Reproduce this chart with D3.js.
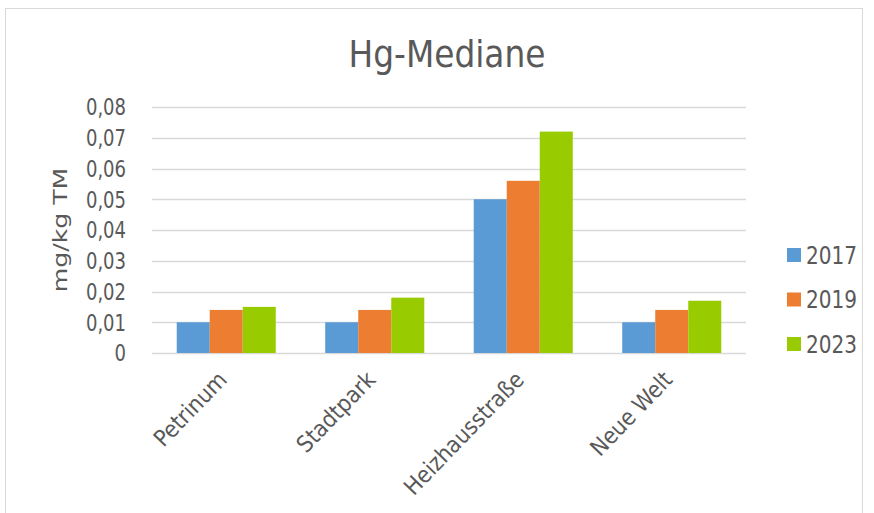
<!DOCTYPE html>
<html>
<head>
<meta charset="utf-8">
<script src="https://cdn.jsdelivr.net/npm/d3@7"></script>
<style>
  body { margin: 0; background: #fff; }
  text { font-family: "DejaVu Sans Condensed", "DejaVu Sans", sans-serif; fill: #595959; }
</style>
</head>
<body>
<svg id="chart"></svg>
<script>
const categories = ['Petrinum', 'Stadtpark', 'Heizhausstraße', 'Neue Welt']
const years = ['2017', '2019', '2023']
const values2017 = [0.010, 0.010, 0.050, 0.010]
const values2019 = [0.014, 0.014, 0.056, 0.014]
const values2023 = [0.015, 0.018, 0.072, 0.017]
const yTicks = [0, 0.01, 0.02, 0.03, 0.04, 0.05, 0.06, 0.07, 0.08]
const colors = ['#5b9bd5', '#ed7d31', '#99cc00']

const series = [values2017, values2019, values2023]
const width = 874, height = 513
const margin = { left: 152, right: 128, top: 107, bottom: 160 }

const svg = d3.select('#chart')
  .attr('width', width)
  .attr('height', height)

// chart frame
svg.append('rect')
  .attr('x', 5.5).attr('y', 8.5)
  .attr('width', 857).attr('height', 520)
  .attr('fill', '#fff')
  .attr('stroke', '#d9d9d9')

const x = d3.scaleBand()
  .domain(categories)
  .range([margin.left, width - margin.right])
  .paddingInner(0.333)
  .paddingOuter(0.1665)

const x1 = d3.scaleBand()
  .domain(years)
  .range([0, x.bandwidth()])

const y = d3.scaleLinear()
  .domain([0, 0.08])
  .range([height - margin.bottom, margin.top])

// gridlines
svg.append('g')
  .selectAll('line')
  .data(yTicks)
  .enter()
    .append('line')
    .attr('x1', margin.left)
    .attr('x2', width - margin.right)
    .attr('y1', d => Math.round(y(d)) + 0.5)
    .attr('y2', d => Math.round(y(d)) + 0.5)
    .attr('stroke', '#d9d9d9')
    .attr('stroke-width', 1.5)

// y axis labels (the original is squeezed sideways a bit)
const fmt = d => d === 0 ? '0' : d3.format('.2f')(d).replace('.', ',')
svg.append('g')
  .selectAll('text')
  .data(yTicks)
  .enter()
    .append('text')
    .attr('transform', d => `translate(126, ${y(d)}) scale(0.87, 1)`)
    .attr('dy', '0.36em')
    .attr('text-anchor', 'end')
    .style('font-size', '23px')
    .text(fmt)

// bars
years.forEach((yr, i) => {
  svg.append('g')
    .selectAll('rect')
    .data(series[i])
    .enter()
      .append('rect')
      .attr('x', (d, j) => x(categories[j]) + x1(yr))
      .attr('y', d => y(d))
      .attr('width', x1.bandwidth())
      .attr('height', d => y(0) - y(d))
      .attr('fill', colors[i])
})

// x axis labels
svg.append('g')
  .selectAll('text')
  .data(categories)
  .enter()
    .append('text')
    .attr('transform', d => `translate(${x(d) + x.bandwidth() / 2 + 2}, 381) rotate(-46)`)
    .attr('text-anchor', 'end')
    .style('font-size', '23px')
    .text(d => d)

// title
svg.append('text')
  .attr('transform', 'translate(447, 67) scale(0.96, 1)')
  .attr('text-anchor', 'middle')
  .style('font-size', '38px')
  .text('Hg-Mediane')

// y axis title
svg.append('text')
  .attr('transform', 'translate(67, 230) scale(0.72, 1) rotate(-90)')
  .attr('text-anchor', 'middle')
  .style('font-size', '28px')
  .text('mg/kg TM')

// legend
const legend = svg.append('g')
  .selectAll('g')
  .data(years)
  .enter()
    .append('g')
    .attr('transform', (d, i) => `translate(787, ${255 + i * 44.5})`)

legend.append('rect')
  .attr('x', 0).attr('y', -7)
  .attr('width', 14).attr('height', 14)
  .attr('fill', (d, i) => colors[i])

legend.append('text')
  .attr('transform', 'translate(19, 0) scale(0.91, 1)')
  .attr('dy', '0.36em')
  .style('font-size', '24.5px')
  .text(d => d)
</script>
</body>
</html>
